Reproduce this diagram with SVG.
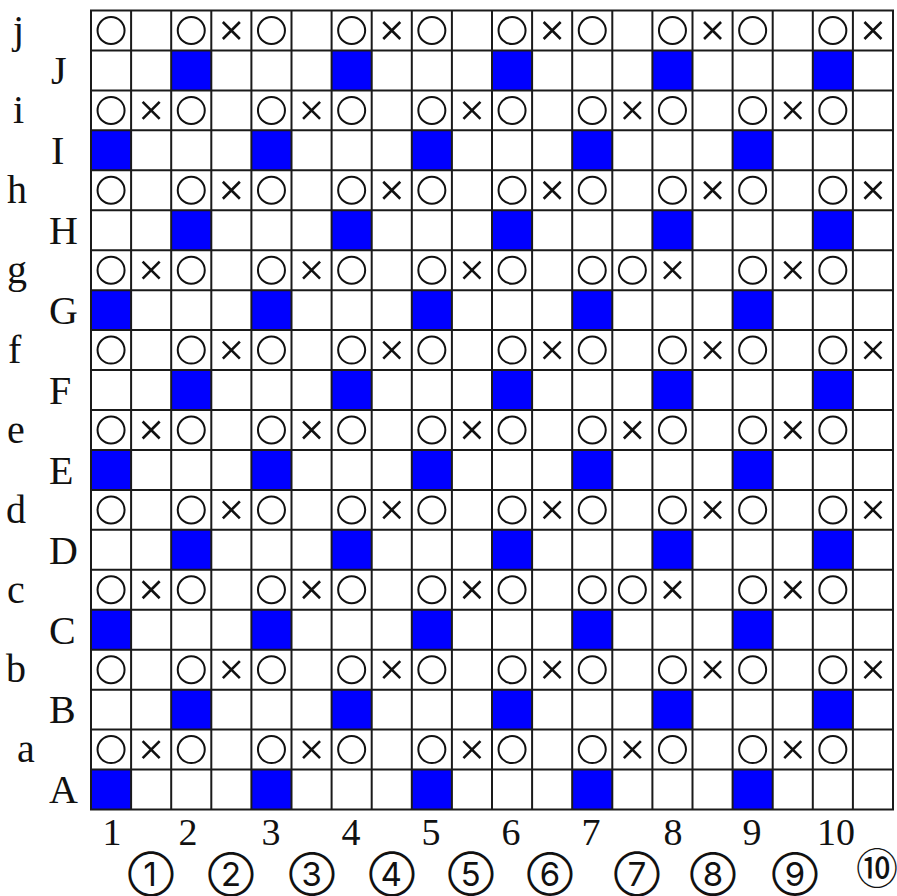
<svg xmlns="http://www.w3.org/2000/svg" width="897" height="896" viewBox="0 0 897 896">
<style>
.lbl{font-family:"Liberation Serif","Times New Roman",serif;font-size:40px;fill:#111}
.num{font-family:"Liberation Serif","Times New Roman",serif;font-size:38px;fill:#111;text-anchor:middle}
.cn{font-family:"Inter","Noto Sans CJK JP",sans-serif;font-size:33px;fill:#111;text-anchor:middle}
.cn10{font-family:"Noto Sans CJK JP","Noto Sans CJK SC",sans-serif;font-size:42px;fill:#111;text-anchor:middle}
.grid{stroke:#1a1a1a;stroke-width:2;fill:none}
.o{fill:none;stroke:#111;stroke-width:2}
.x{fill:none;stroke:#111;stroke-width:2.6}
.b{fill:#0000ff}
</style>
<defs>
<circle id="o" r="13.5" class="o"/>
<path id="x" d="M-8.5,-8.5L8.5,8.5M8.5,-8.5L-8.5,8.5" class="x"/>
<rect id="b" width="40.1" height="39.95" class="b"/>
</defs>
<rect width="897" height="896" fill="#fff"/>
<g id="blue">
<use href="#b" x="171.2" y="50.45"/><use href="#b" x="331.6" y="50.45"/><use href="#b" x="492" y="50.45"/><use href="#b" x="652.4" y="50.45"/><use href="#b" x="812.8" y="50.45"/>
<use href="#b" x="91" y="130.35"/><use href="#b" x="251.4" y="130.35"/><use href="#b" x="411.8" y="130.35"/><use href="#b" x="572.2" y="130.35"/><use href="#b" x="732.6" y="130.35"/>
<use href="#b" x="171.2" y="210.25"/><use href="#b" x="331.6" y="210.25"/><use href="#b" x="492" y="210.25"/><use href="#b" x="652.4" y="210.25"/><use href="#b" x="812.8" y="210.25"/>
<use href="#b" x="91" y="290.15"/><use href="#b" x="251.4" y="290.15"/><use href="#b" x="411.8" y="290.15"/><use href="#b" x="572.2" y="290.15"/><use href="#b" x="732.6" y="290.15"/>
<use href="#b" x="171.2" y="370.05"/><use href="#b" x="331.6" y="370.05"/><use href="#b" x="492" y="370.05"/><use href="#b" x="652.4" y="370.05"/><use href="#b" x="812.8" y="370.05"/>
<use href="#b" x="91" y="449.95"/><use href="#b" x="251.4" y="449.95"/><use href="#b" x="411.8" y="449.95"/><use href="#b" x="572.2" y="449.95"/><use href="#b" x="732.6" y="449.95"/>
<use href="#b" x="171.2" y="529.85"/><use href="#b" x="331.6" y="529.85"/><use href="#b" x="492" y="529.85"/><use href="#b" x="652.4" y="529.85"/><use href="#b" x="812.8" y="529.85"/>
<use href="#b" x="91" y="609.75"/><use href="#b" x="251.4" y="609.75"/><use href="#b" x="411.8" y="609.75"/><use href="#b" x="572.2" y="609.75"/><use href="#b" x="732.6" y="609.75"/>
<use href="#b" x="171.2" y="689.65"/><use href="#b" x="331.6" y="689.65"/><use href="#b" x="492" y="689.65"/><use href="#b" x="652.4" y="689.65"/><use href="#b" x="812.8" y="689.65"/>
<use href="#b" x="91" y="769.55"/><use href="#b" x="251.4" y="769.55"/><use href="#b" x="411.8" y="769.55"/><use href="#b" x="572.2" y="769.55"/><use href="#b" x="732.6" y="769.55"/>
</g>
<g id="grid" class="grid">
<path d="M91,10.5V809.5M131.1,10.5V809.5M171.2,10.5V809.5M211.3,10.5V809.5M251.4,10.5V809.5M291.5,10.5V809.5M331.6,10.5V809.5M371.7,10.5V809.5M411.8,10.5V809.5M451.9,10.5V809.5M492,10.5V809.5M532.1,10.5V809.5M572.2,10.5V809.5M612.3,10.5V809.5M652.4,10.5V809.5M692.5,10.5V809.5M732.6,10.5V809.5M772.7,10.5V809.5M812.8,10.5V809.5M852.9,10.5V809.5M893,10.5V809.5"/>
<path d="M90,10.5H894M90,50.45H894M90,90.4H894M90,130.35H894M90,170.3H894M90,210.25H894M90,250.2H894M90,290.15H894M90,330.1H894M90,370.05H894M90,410H894M90,449.95H894M90,489.9H894M90,529.85H894M90,569.8H894M90,609.75H894M90,649.7H894M90,689.65H894M90,729.6H894M90,769.55H894M90,809.5H894"/>
</g>
<g id="marks">
<g id="row-j">
<use href="#o" x="111.05" y="30.48"/><use href="#o" x="191.25" y="30.48"/><use href="#x" x="231.35" y="30.48"/><use href="#o" x="271.45" y="30.48"/><use href="#o" x="351.65" y="30.48"/><use href="#x" x="391.75" y="30.48"/><use href="#o" x="431.85" y="30.48"/><use href="#o" x="512.05" y="30.48"/><use href="#x" x="552.15" y="30.48"/><use href="#o" x="592.25" y="30.48"/><use href="#o" x="672.45" y="30.48"/><use href="#x" x="712.55" y="30.48"/><use href="#o" x="752.65" y="30.48"/><use href="#o" x="832.85" y="30.48"/><use href="#x" x="872.95" y="30.48"/>
</g>
<g id="row-h">
<use href="#o" x="111.05" y="190.28"/><use href="#o" x="191.25" y="190.28"/><use href="#x" x="231.35" y="190.28"/><use href="#o" x="271.45" y="190.28"/><use href="#o" x="351.65" y="190.28"/><use href="#x" x="391.75" y="190.28"/><use href="#o" x="431.85" y="190.28"/><use href="#o" x="512.05" y="190.28"/><use href="#x" x="552.15" y="190.28"/><use href="#o" x="592.25" y="190.28"/><use href="#o" x="672.45" y="190.28"/><use href="#x" x="712.55" y="190.28"/><use href="#o" x="752.65" y="190.28"/><use href="#o" x="832.85" y="190.28"/><use href="#x" x="872.95" y="190.28"/>
</g>
<g id="row-f">
<use href="#o" x="111.05" y="350.08"/><use href="#o" x="191.25" y="350.08"/><use href="#x" x="231.35" y="350.08"/><use href="#o" x="271.45" y="350.08"/><use href="#o" x="351.65" y="350.08"/><use href="#x" x="391.75" y="350.08"/><use href="#o" x="431.85" y="350.08"/><use href="#o" x="512.05" y="350.08"/><use href="#x" x="552.15" y="350.08"/><use href="#o" x="592.25" y="350.08"/><use href="#o" x="672.45" y="350.08"/><use href="#x" x="712.55" y="350.08"/><use href="#o" x="752.65" y="350.08"/><use href="#o" x="832.85" y="350.08"/><use href="#x" x="872.95" y="350.08"/>
</g>
<g id="row-d">
<use href="#o" x="111.05" y="509.88"/><use href="#o" x="191.25" y="509.88"/><use href="#x" x="231.35" y="509.88"/><use href="#o" x="271.45" y="509.88"/><use href="#o" x="351.65" y="509.88"/><use href="#x" x="391.75" y="509.88"/><use href="#o" x="431.85" y="509.88"/><use href="#o" x="512.05" y="509.88"/><use href="#x" x="552.15" y="509.88"/><use href="#o" x="592.25" y="509.88"/><use href="#o" x="672.45" y="509.88"/><use href="#x" x="712.55" y="509.88"/><use href="#o" x="752.65" y="509.88"/><use href="#o" x="832.85" y="509.88"/><use href="#x" x="872.95" y="509.88"/>
</g>
<g id="row-b">
<use href="#o" x="111.05" y="669.68"/><use href="#o" x="191.25" y="669.68"/><use href="#x" x="231.35" y="669.68"/><use href="#o" x="271.45" y="669.68"/><use href="#o" x="351.65" y="669.68"/><use href="#x" x="391.75" y="669.68"/><use href="#o" x="431.85" y="669.68"/><use href="#o" x="512.05" y="669.68"/><use href="#x" x="552.15" y="669.68"/><use href="#o" x="592.25" y="669.68"/><use href="#o" x="672.45" y="669.68"/><use href="#x" x="712.55" y="669.68"/><use href="#o" x="752.65" y="669.68"/><use href="#o" x="832.85" y="669.68"/><use href="#x" x="872.95" y="669.68"/>
</g>
<g id="row-i">
<use href="#o" x="111.05" y="110.38"/><use href="#x" x="151.15" y="110.38"/><use href="#o" x="191.25" y="110.38"/><use href="#o" x="271.45" y="110.38"/><use href="#x" x="311.55" y="110.38"/><use href="#o" x="351.65" y="110.38"/><use href="#o" x="431.85" y="110.38"/><use href="#x" x="471.95" y="110.38"/><use href="#o" x="512.05" y="110.38"/><use href="#o" x="592.25" y="110.38"/><use href="#x" x="632.35" y="110.38"/><use href="#o" x="672.45" y="110.38"/><use href="#o" x="752.65" y="110.38"/><use href="#x" x="792.75" y="110.38"/><use href="#o" x="832.85" y="110.38"/>
</g>
<g id="row-e">
<use href="#o" x="111.05" y="429.98"/><use href="#x" x="151.15" y="429.98"/><use href="#o" x="191.25" y="429.98"/><use href="#o" x="271.45" y="429.98"/><use href="#x" x="311.55" y="429.98"/><use href="#o" x="351.65" y="429.98"/><use href="#o" x="431.85" y="429.98"/><use href="#x" x="471.95" y="429.98"/><use href="#o" x="512.05" y="429.98"/><use href="#o" x="592.25" y="429.98"/><use href="#x" x="632.35" y="429.98"/><use href="#o" x="672.45" y="429.98"/><use href="#o" x="752.65" y="429.98"/><use href="#x" x="792.75" y="429.98"/><use href="#o" x="832.85" y="429.98"/>
</g>
<g id="row-a">
<use href="#o" x="111.05" y="749.58"/><use href="#x" x="151.15" y="749.58"/><use href="#o" x="191.25" y="749.58"/><use href="#o" x="271.45" y="749.58"/><use href="#x" x="311.55" y="749.58"/><use href="#o" x="351.65" y="749.58"/><use href="#o" x="431.85" y="749.58"/><use href="#x" x="471.95" y="749.58"/><use href="#o" x="512.05" y="749.58"/><use href="#o" x="592.25" y="749.58"/><use href="#x" x="632.35" y="749.58"/><use href="#o" x="672.45" y="749.58"/><use href="#o" x="752.65" y="749.58"/><use href="#x" x="792.75" y="749.58"/><use href="#o" x="832.85" y="749.58"/>
</g>
<g id="row-g">
<use href="#o" x="111.05" y="270.18"/><use href="#x" x="151.15" y="270.18"/><use href="#o" x="191.25" y="270.18"/><use href="#o" x="271.45" y="270.18"/><use href="#x" x="311.55" y="270.18"/><use href="#o" x="351.65" y="270.18"/><use href="#o" x="431.85" y="270.18"/><use href="#x" x="471.95" y="270.18"/><use href="#o" x="512.05" y="270.18"/><use href="#o" x="592.25" y="270.18"/><use href="#o" x="632.35" y="270.18"/><use href="#x" x="672.45" y="270.18"/><use href="#o" x="752.65" y="270.18"/><use href="#x" x="792.75" y="270.18"/><use href="#o" x="832.85" y="270.18"/>
</g>
<g id="row-c">
<use href="#o" x="111.05" y="589.78"/><use href="#x" x="151.15" y="589.78"/><use href="#o" x="191.25" y="589.78"/><use href="#o" x="271.45" y="589.78"/><use href="#x" x="311.55" y="589.78"/><use href="#o" x="351.65" y="589.78"/><use href="#o" x="431.85" y="589.78"/><use href="#x" x="471.95" y="589.78"/><use href="#o" x="512.05" y="589.78"/><use href="#o" x="592.25" y="589.78"/><use href="#o" x="632.35" y="589.78"/><use href="#x" x="672.45" y="589.78"/><use href="#o" x="752.65" y="589.78"/><use href="#x" x="792.75" y="589.78"/><use href="#o" x="832.85" y="589.78"/>
</g>
</g>
<g id="row-labels" class="lbl">
<text x="13" y="43">j</text>
<text x="51" y="84">J</text>
<text x="13" y="123">i</text>
<text x="51" y="164">I</text>
<text x="7" y="203">h</text>
<text x="49" y="244">H</text>
<text x="7" y="283">g</text>
<text x="49" y="324">G</text>
<text x="8" y="363">f</text>
<text x="49" y="403.5">F</text>
<text x="7" y="442.5">e</text>
<text x="49" y="483.5">E</text>
<text x="6" y="522.5">d</text>
<text x="49" y="563.5">D</text>
<text x="7" y="602.5">c</text>
<text x="49" y="643.5">C</text>
<text x="6" y="682">b</text>
<text x="49" y="723">B</text>
<text x="17" y="762">a</text>
<text x="49" y="803">A</text>
</g>
<g id="col-numbers" class="num">
<text x="112" y="845">1</text>
<text x="188" y="845">2</text>
<text x="271" y="845">3</text>
<text x="351" y="845">4</text>
<text x="431" y="845">5</text>
<text x="511" y="845">6</text>
<text x="591" y="845">7</text>
<text x="673" y="845">8</text>
<text x="752" y="845">9</text>
<text x="836" y="845">10</text>
</g>
<g id="circled-numbers" class="cn">
<text x="151" y="885.5">①</text>
<text x="231" y="885.5">②</text>
<text x="312" y="885.5">③</text>
<text x="392" y="885.5">④</text>
<text x="471" y="885.5">⑤</text>
<text x="550" y="885.5">⑥</text>
<text x="637" y="885.5">⑦</text>
<text x="713" y="885.5">⑧</text>
<text x="795" y="885.5">⑨</text>
<text x="877" y="883.8" class="cn10">⑩</text>
</g>
</svg>
